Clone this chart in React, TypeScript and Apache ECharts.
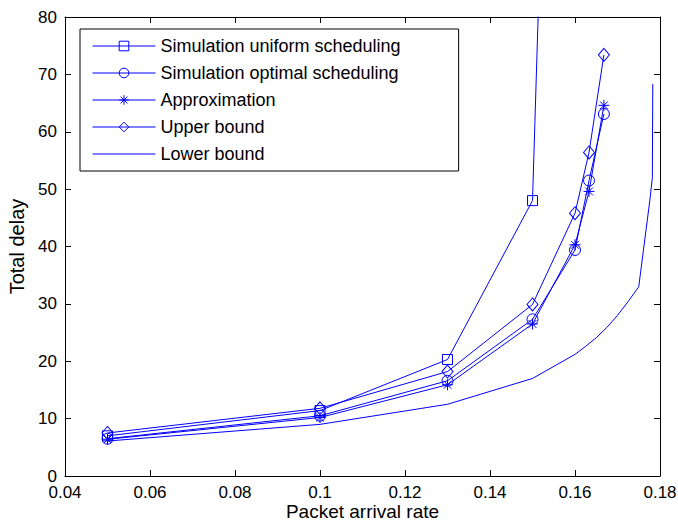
import React, { useEffect, useRef } from "react";
import * as echarts from "echarts";

const seriesNames = [
  "Simulation uniform scheduling",
  "Simulation optimal scheduling",
  "Approximation",
  "Upper bound",
  "Lower bound",
];

const uniformX = [0.05, 0.1, 0.13, 0.15, 0.16];
const uniformY = [7.0, 11.4, 20.3, 48.0, 290];

const optimalX = [0.05, 0.1, 0.13, 0.15, 0.16, 0.1633, 0.1668];
const optimalY = [6.5, 10.5, 16.6, 27.3, 39.4, 51.5, 63.1];

const approxX = [0.05, 0.1, 0.13, 0.15, 0.16, 0.1633, 0.1668];
const approxY = [6.4, 10.2, 15.9, 26.5, 40.3, 49.6, 64.6];

const upperX = [0.05, 0.1, 0.13, 0.15, 0.16, 0.1633, 0.1668];
const upperY = [7.5, 11.8, 18.2, 29.9, 45.8, 56.4, 73.4];

const lowerX = [0.05, 0.1, 0.13, 0.15, 0.16, 0.1625, 0.165, 0.1675, 0.17, 0.1725, 0.175, 0.1776, 0.1782, 0.1783];
const lowerY = [6.1, 9.0, 12.5, 17.0, 21.2, 22.6, 24.1, 25.9, 28.0, 30.4, 33.0, 48.0, 52.0, 68.3];

const xTicks = { min: 0.04, max: 0.18, interval: 0.02 };
const yTicks = { min: 0, max: 80, interval: 10 };

const BLUE = "#0000ff";
const FONT = "'Liberation Sans', Arial, Helvetica, sans-serif";

const SYM_SQUARE = "path://M0,0L10,0L10,10L0,10Z";
const SYM_CIRCLE = "path://M0,5A5,5,0,1,1,10,5A5,5,0,1,1,0,5Z";
const SYM_STAR = "path://M5,0L5,10M0,5L10,5M1.46,1.46L8.54,8.54M8.54,1.46L1.46,8.54";
const SYM_DIAMOND = "path://M5,0L10,6L5,12L0,6Z";

function zip(xs: number[], ys: number[]) {
  return xs.map((x, i) => [x, ys[i]]);
}

function makeSeries(name: string, data: number[][], symbol: string, size: any, hideSymbol = false) {
  return {
    type: "line",
    name,
    data,
    symbol: hideSymbol ? "none" : symbol,
    symbolSize: size,
    showSymbol: !hideSymbol,
    clip: true,
    lineStyle: { color: BLUE, width: 1 },
    itemStyle: {
      color: "rgba(0,0,255,0)",
      borderColor: hideSymbol ? "rgba(0,0,255,0)" : BLUE,
      borderWidth: 1,
    },
    emphasis: { disabled: true },
    xAxisIndex: 0,
    yAxisIndex: 0,
  };
}

export default function App() {
  const ref = useRef<HTMLDivElement>(null);
  useEffect(() => {
    if (!ref.current) return;
    const chart = echarts.init(ref.current, null, { renderer: "svg" });
    const axisLine = { show: true, onZero: false, lineStyle: { color: "#000", width: 1 } };
    const axisTick = { show: true, inside: true, length: 6, lineStyle: { color: "#000", width: 1 } };
    const fmtX = (v: number) => String(Number(v.toFixed(2)));
    chart.setOption({
      animation: false,
      backgroundColor: "#fff",
      grid: { left: 65, right: 18, top: 17, bottom: 49, containLabel: false, outerBoundsMode: "none" },
      legend: {
        orient: "vertical",
        left: 80,
        top: 29,
        padding: [8, 58, 8, 12],
        itemGap: 9,
        itemWidth: 63,
        itemHeight: 12,
        borderColor: "#000",
        borderWidth: 1,
        backgroundColor: "#fff",
        selectedMode: false,
        textStyle: { fontSize: 18, fontFamily: FONT, color: "#000" },
        itemStyle: { borderWidth: 1 },
        lineStyle: { width: 1 },
        data: seriesNames,
      },
      xAxis: [
        {
          type: "value",
          position: "bottom",
          ...xTicks,
          name: "Packet arrival rate",
          nameLocation: "middle",
          nameGap: 26,
          nameMoveOverlap: false,
          nameTextStyle: { fontSize: 19, color: "#000", fontFamily: FONT },
          axisLine,
          axisTick,
          axisLabel: { fontSize: 17, lineHeight: 15, color: "#000", fontFamily: FONT, margin: 9, formatter: fmtX },
          splitLine: { show: false },
        },
        {
          type: "value",
          position: "top",
          ...xTicks,
          axisLine,
          axisTick,
          axisLabel: { show: false },
          splitLine: { show: false },
        },
      ],
      yAxis: [
        {
          type: "value",
          position: "left",
          ...yTicks,
          name: "Total delay",
          nameLocation: "middle",
          nameGap: 37,
          nameTextStyle: { fontSize: 20, color: "#000", fontFamily: FONT },
          axisLine,
          axisTick,
          axisLabel: { fontSize: 17, lineHeight: 15, color: "#000", fontFamily: FONT, margin: 8 },
          splitLine: { show: false },
        },
        {
          type: "value",
          position: "right",
          ...yTicks,
          axisLine,
          axisTick,
          axisLabel: { show: false },
          splitLine: { show: false },
        },
      ],
      series: [
        makeSeries(seriesNames[0], zip(uniformX, uniformY), SYM_SQUARE, 10),
        makeSeries(seriesNames[1], zip(optimalX, optimalY), SYM_CIRCLE, 11),
        makeSeries(seriesNames[2], zip(approxX, approxY), SYM_STAR, 11),
        makeSeries(seriesNames[3], zip(upperX, upperY), SYM_DIAMOND, [11, 13]),
        makeSeries(seriesNames[4], zip(lowerX, lowerY), SYM_CIRCLE, 1, true),
      ],
    });
    return () => chart.dispose();
  }, []);
  return (
    <div
      ref={ref}
      style={{ position: "fixed", left: 0, top: 0, width: 678, height: 525, background: "#fff" }}
    />
  );
}
